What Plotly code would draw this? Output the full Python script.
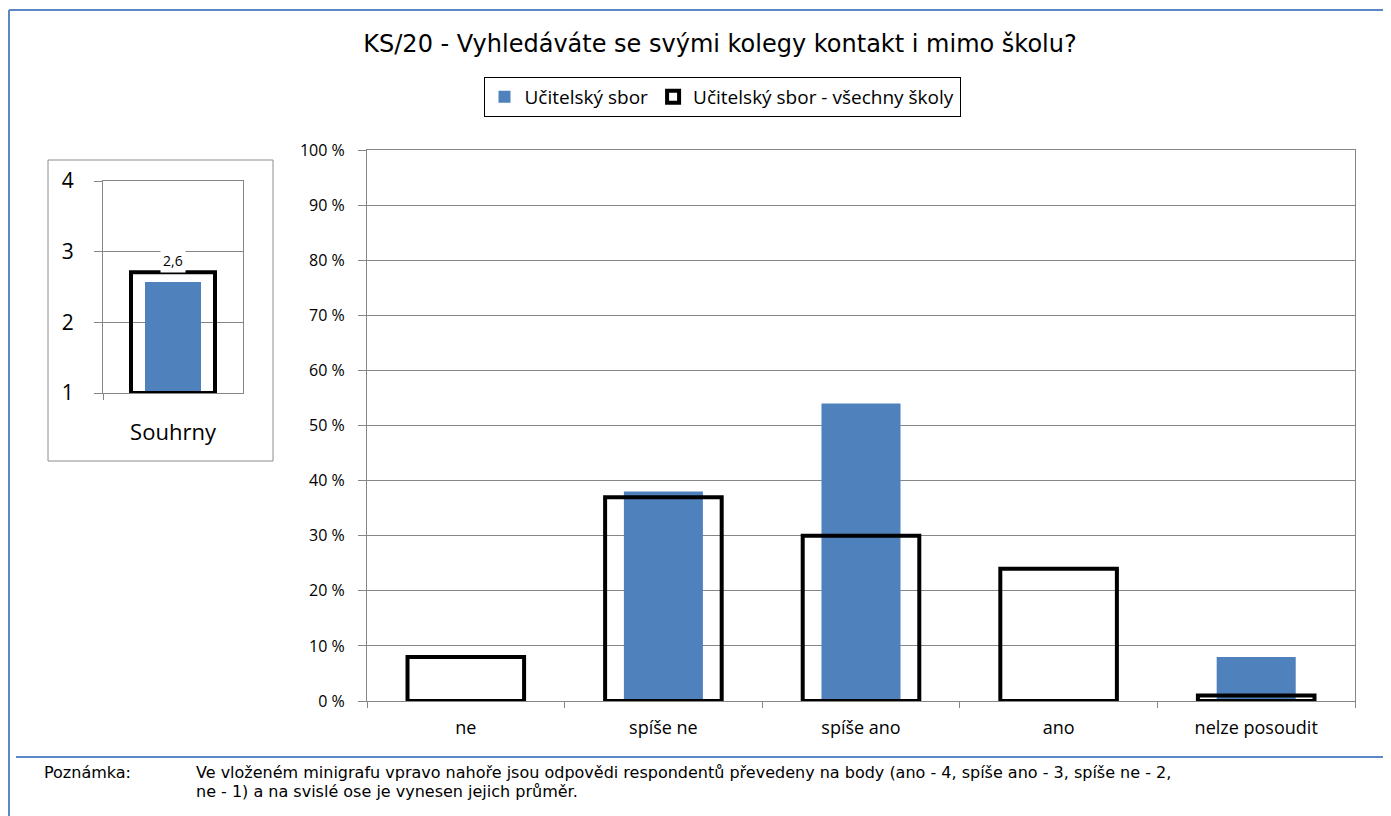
import plotly.graph_objects as go

# ---- data ----
categories = ["ne", "spíše ne", "spíše ano", "ano", "nelze posoudit"]
school_pct = [0, 38, 54, 0, 8]          # Učitelský sbor
all_schools_pct = [8, 37, 30, 24, 1]    # Učitelský sbor - všechny školy
y_tick_vals = [0, 10, 20, 30, 40, 50, 60, 70, 80, 90, 100]
y_tick_text = ["0 %", "10 %", "20 %", "30 %", "40 %", "50 %", "60 %", "70 %", "80 %", "90 %", "100 %"]

mini_category = ["Souhrny"]
mini_school = [2.57]
mini_all = [2.71]
mini_label = ["2,6"]
mini_ticks = [1, 2, 3, 4]

title_text = "KS/20 - Vyhledáváte se svými kolegy kontakt i mimo školu?"
note_label = "Poznámka:"
note_lines = ["Ve vloženém minigrafu vpravo nahoře jsou odpovědi respondentů převedeny na body (ano - 4, spíše ano - 3, spíše ne - 2,",
              "ne - 1) a na svislé ose je vynesen jejich průměr."]

BLUE = "#4F81BD"
GRID = "#868686"
FRAME = "#5B87C5"
CAL = "'Open Sans', Lato, sans-serif"
ARIAL = "'DejaVu Sans', 'Liberation Sans', Arial, sans-serif"

# page body has an 8px margin: figure sized/placed to compensate
OFF = 8
W, H = 1391 - OFF, 816 - OFF

def px(x):
    return (x - OFF) / W

def py(y):
    return 1 - (y - OFF) / H

fig = go.Figure()

# main chart
fig.add_trace(go.Bar(
    x=categories, y=school_pct, name="Učitelský sbor",
    marker=dict(color=BLUE, line=dict(width=0)), width=0.4,
    xaxis="x", yaxis="y",
))
fig.add_trace(go.Bar(
    x=categories, y=all_schools_pct, name="Učitelský sbor - všechny školy",
    marker=dict(color="rgba(0,0,0,0)", line=dict(color="black", width=4)), width=0.59,
    xaxis="x", yaxis="y",
))

# mini chart
fig.add_trace(go.Bar(
    x=mini_category, y=[v - 1 for v in mini_school], base=1,
    marker=dict(color=BLUE, line=dict(width=0)), width=0.4,
    xaxis="x2", yaxis="y2", showlegend=False,
))
fig.add_trace(go.Bar(
    x=mini_category, y=[v - 1 for v in mini_all], base=1,
    marker=dict(color="rgba(0,0,0,0)", line=dict(color="black", width=4)), width=0.6,
    xaxis="x2", yaxis="y2", showlegend=False,
))

fig.update_layout(
    width=W, height=H,
    margin=dict(l=0, r=0, t=0, b=0, pad=0, autoexpand=False),
    paper_bgcolor="white", plot_bgcolor="white",
    barmode="overlay",
    showlegend=True,
    title=dict(text=title_text, x=px(720), xanchor="center", y=py(44), yanchor="middle",
               font=dict(family=ARIAL, size=24, color="black")),
    legend=dict(orientation="h", x=px(722), xanchor="center", y=py(77), yanchor="top",
                bordercolor="black", borderwidth=1, bgcolor="white",
                font=dict(family=CAL, size=19, color="black"),
                itemwidth=30, tracegroupgap=0),
    xaxis=dict(domain=[px(367), px(1355)], anchor="y", type="category",
               showline=True, linecolor=GRID, linewidth=1, mirror=True,
               ticks="outside", tickson="boundaries", ticklen=6, tickcolor=GRID,
               ticklabelstandoff=10,
               showgrid=False, tickfont=dict(family=CAL, size=18, color="black"),
               fixedrange=True),
    yaxis=dict(domain=[py(701), py(150)], anchor="x", range=[0, 100],
               tickvals=y_tick_vals, ticktext=y_tick_text,
               showline=True, linecolor=GRID, linewidth=1, mirror=True,
               ticks="outside", ticklen=8, tickcolor=GRID, ticklabelstandoff=10,
               showgrid=True, gridcolor=GRID, gridwidth=1, zeroline=False,
               tickfont=dict(family=CAL, size=16, color="black"), fixedrange=True),
    xaxis2=dict(domain=[px(103), px(243)], anchor="y2", type="category",
                showline=True, linecolor=GRID, linewidth=1, mirror=True,
                ticks="outside", tickson="boundaries", ticklen=6, tickcolor=GRID,
                ticklabelstandoff=20,
                showgrid=False,
                tickfont=dict(family=CAL, size=22, color="black"), fixedrange=True),
    yaxis2=dict(domain=[py(393), py(181)], anchor="x2", range=[1, 4],
                tickvals=mini_ticks, ticktext=[str(t) for t in mini_ticks],
                showline=True, linecolor=GRID, linewidth=1, mirror=True,
                ticks="outside", ticklen=8, tickcolor=GRID, ticklabelstandoff=16,
                showgrid=True, gridcolor=GRID, gridwidth=1, zeroline=False,
                tickfont=dict(family=CAL, size=21, color="black"), fixedrange=True),
)

# mini data label
fig.add_annotation(x=mini_category[0], y=mini_all[0], xref="x2", yref="y2",
                   text=mini_label[0], showarrow=False, yanchor="middle", yshift=12,
                   bgcolor="white", font=dict(family=CAL, size=14, color="black"),
                   borderpad=2)

# frames and separator
shapes = [
    dict(type="rect", xref="paper", yref="paper", x0=px(48), x1=px(273), y0=py(461), y1=py(160),
         line=dict(color="#8C8C8C", width=1), fillcolor="rgba(0,0,0,0)", layer="below"),
    dict(type="line", xref="paper", yref="paper", x0=px(9), x1=1.0, y0=py(10), y1=py(10),
         line=dict(color=FRAME, width=2)),
    dict(type="line", xref="paper", yref="paper", x0=px(9), x1=px(9), y0=py(10), y1=0,
         line=dict(color=FRAME, width=2)),
    dict(type="line", xref="paper", yref="paper", x0=px(16), x1=1.0, y0=py(757), y1=py(757),
         line=dict(color=FRAME, width=2)),
]
fig.update_layout(shapes=shapes)

# note
fig.add_annotation(x=px(42), y=py(772), xref="paper", yref="paper", text=note_label,
                   showarrow=False, xanchor="left", yanchor="middle", align="left",
                   font=dict(family=ARIAL, size=16, color="black"))
for i, line in enumerate(note_lines):
    fig.add_annotation(x=px(194), y=py(772 + 19 * i), xref="paper", yref="paper", text=line,
                       showarrow=False, xanchor="left", yanchor="middle", align="left",
                       font=dict(family=ARIAL, size=16, color="black"))

fig.write_html("out.html")
